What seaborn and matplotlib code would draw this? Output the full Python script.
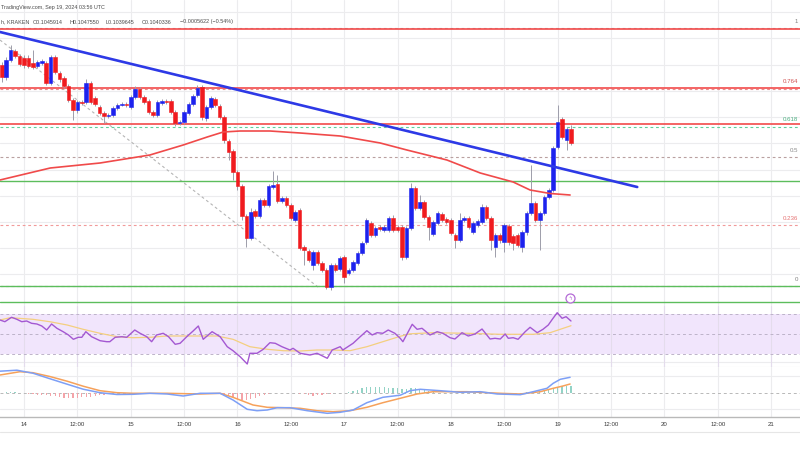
import numpy as np
import matplotlib
matplotlib.use("Agg")
import matplotlib.pyplot as plt
import matplotlib.transforms as mtransforms
from matplotlib.lines import Line2D
import seaborn as sns

sns.set_theme(style="white")
plt.rcParams["font.family"] = ["Liberation Sans", "DejaVu Sans"]

# ---------------- data (prices in 1e-5 units, hours from Sep 14 00:00 UTC) ----------------
first_hour = -5  # first hourly candle: Sep 13 19:00 UTC

open_e5 = [10715, 10667, 10735, 10771, 10751, 10743, 10743, 10723, 10711, 10723,
           10723, 10643, 10747, 10683, 10663, 10631, 10575, 10535, 10567, 10567,
           10643, 10583, 10547, 10523, 10511, 10515, 10543, 10555, 10559, 10547,
           10587, 10619, 10587, 10571, 10527, 10515, 10563, 10571, 10571, 10527,
           10483, 10487, 10523, 10559, 10595, 10627, 10503, 10547, 10579, 10551,
           10507, 10411, 10371, 10287, 10231, 10111, 10023, 10131, 10111, 10175,
           10155, 10227, 10239, 10171, 10183, 10155, 10095, 10135, 9987, 9971,
           9915, 9967, 9923, 9895, 9827, 9915, 9899, 9947, 9883, 9895,
           9923, 9963, 10007, 10083, 10035, 10067, 10055, 10055, 10103, 10067,
           10067, 9947, 10063, 10223, 10143, 10167, 10107, 10039, 10083, 10119,
           10099, 10095, 10035, 10015, 10095, 10103, 10047, 10075, 10087, 10147,
           10103, 9987, 10035, 10007, 10071, 10031, 10035, 9987, 10047, 10123,
           10163, 10095, 10123, 10187, 10215, 10387, 10499, 10415, 10459]
close_e5 = [10667, 10735, 10775, 10751, 10719, 10715, 10711, 10707, 10727, 10731,
            10643, 10747, 10687, 10659, 10631, 10575, 10535, 10567, 10563, 10643,
            10567, 10559, 10523, 10511, 10515, 10543, 10555, 10559, 10555, 10587,
            10619, 10587, 10567, 10527, 10515, 10567, 10571, 10567, 10527, 10483,
            10487, 10527, 10559, 10591, 10623, 10507, 10547, 10583, 10555, 10507,
            10415, 10367, 10287, 10231, 10111, 10023, 10127, 10111, 10175, 10155,
            10231, 10235, 10171, 10183, 10155, 10103, 10127, 9983, 9975, 9935,
            9967, 9923, 9895, 9827, 9915, 9895, 9943, 9867, 9895, 9927,
            9963, 10003, 10095, 10035, 10063, 10059, 10067, 10103, 10055, 10055,
            9947, 10063, 10223, 10143, 10167, 10107, 10067, 10087, 10123, 10095,
            10087, 10043, 10015, 10095, 10103, 10067, 10083, 10091, 10147, 10103,
            10015, 10035, 10015, 10075, 10007, 10003, 9995, 10047, 10123, 10163,
            10095, 10123, 10187, 10215, 10383, 10487, 10427, 10459, 10403]
high_e5 = [10727, 10747, 10795, 10779, 10759, 10755, 10755, 10775, 10735, 10739,
           10731, 10755, 10755, 10691, 10671, 10639, 10583, 10575, 10575, 10659,
           10651, 10591, 10555, 10531, 10523, 10551, 10563, 10567, 10567, 10595,
           10631, 10627, 10595, 10579, 10535, 10575, 10579, 10579, 10579, 10535,
           10495, 10535, 10567, 10599, 10635, 10635, 10555, 10591, 10587, 10559,
           10515, 10419, 10379, 10295, 10239, 10119, 10143, 10139, 10183, 10183,
           10239, 10291, 10275, 10191, 10191, 10163, 10135, 10143, 9995, 9979,
           9975, 9975, 9931, 9903, 9923, 9923, 9951, 9955, 9903, 9935,
           9971, 10011, 10103, 10091, 10071, 10075, 10075, 10111, 10115, 10075,
           10075, 10071, 10243, 10231, 10195, 10175, 10115, 10095, 10131, 10127,
           10107, 10103, 10043, 10123, 10111, 10111, 10091, 10099, 10159, 10155,
           10111, 10043, 10043, 10083, 10079, 10039, 10043, 10055, 10131, 10315,
           10171, 10131, 10195, 10223, 10391, 10555, 10507, 10467, 10475]
low_e5 = [10647, 10655, 10727, 10743, 10711, 10703, 10703, 10699, 10703, 10715,
          10635, 10635, 10679, 10647, 10623, 10567, 10495, 10523, 10555, 10559,
          10559, 10551, 10515, 10483, 10503, 10507, 10535, 10551, 10547, 10539,
          10579, 10579, 10559, 10519, 10507, 10507, 10555, 10559, 10519, 10471,
          10475, 10479, 10515, 10551, 10587, 10495, 10491, 10539, 10547, 10499,
          10403, 10335, 10255, 10215, 10095, 9987, 10015, 10103, 10103, 10147,
          10147, 10219, 10163, 10163, 10147, 10095, 10087, 9975, 9915, 9927,
          9895, 9915, 9887, 9819, 9815, 9887, 9891, 9843, 9875, 9887,
          9915, 9955, 9999, 10027, 10027, 10051, 10047, 10047, 10047, 10047,
          9935, 9939, 10055, 10135, 10135, 10099, 10015, 10031, 10075, 10087,
          10079, 10035, 9983, 10007, 10087, 10059, 10039, 10067, 10079, 10095,
          9975, 9947, 10003, 9967, 9995, 9975, 9987, 9967, 10035, 10115,
          10087, 9975, 10115, 10179, 10207, 10379, 10419, 10375, 10395]

# 100-period moving average (read points)
ma_hours = [-5.4, 5.9, 17.1, 28.3, 35.8, 41.2, 44.8, 48.6, 55.3, 62.1, 71.1, 80.1,
            86.1, 95.1, 102.6, 110.0, 113.8, 118.3, 122.8]
ma_e5 = [10255, 10303, 10323, 10355, 10395, 10427, 10447, 10451, 10451, 10443, 10431,
         10403, 10375, 10335, 10283, 10247, 10215, 10201, 10195]

trend_hours = [-5.4, 137.9]
trend_e5 = [10847, 10227]
diag_hours = [-5.4, 66.1]
diag_e5 = [10815, 9827]

fib_low_e5 = 9831
fib_high_e5 = 10863
fib_levels = [0, 0.236, 0.5, 0.618, 0.764, 1]
fib_labels = ["0", "0.236", "0.5", "0.618", "0.764", "1"]

red_levels_e5 = [10859, 10623, 10479]
green_levels_e5 = [10251, 9831, 9767]
grid_e5 = [10927, 10823, 10715, 10611, 10507, 10403, 10295, 10191, 10087, 9983, 9879]

rsi_hours = [-5.4, -4.3, -2.8, -1.6, -0.5, 0.6, 1.7, 2.9, 4.0, 5.1, 6.2, 7.4, 8.8, 10.0,
             11.1, 12.2, 13.0, 13.9, 15.2, 17.1, 18.6, 19.3, 20.5, 22.0, 23.1, 24.9, 26.1,
             27.6, 28.7, 29.8, 31.3, 32.5, 34.0, 35.1, 36.6, 38.1, 39.2, 40.3, 42.3, 44.1,
             45.7, 47.0, 48.6, 50.2, 50.8, 52.4, 53.8, 55.3, 56.5, 58.0, 59.8, 60.5, 62.1,
             64.3, 65.9, 68.2, 69.3, 71.1, 71.7, 74.0, 75.6, 77.1, 78.3, 79.4, 80.7, 81.9,
             83.4, 84.6, 85.2, 87.3, 88.4, 89.5, 91.3, 92.9, 94.2, 95.8, 96.9, 98.5, 99.9,
             101.4, 103.0, 104.8, 105.9, 107.1, 108.2, 108.9, 110.0, 111.1, 112.7, 113.8,
             115.4, 116.7, 117.9, 118.8, 119.9, 121.0, 121.9, 123.0]
rsi_vals = [64.3, 62.6, 67, 65, 62.6, 63.3, 61, 60.3, 58.3, 54.3, 60.3, 56, 52.6, 49.3,
            45, 47, 47, 52.6, 47.6, 43.6, 42.6, 42.6, 47, 47.6, 47, 54.3, 51,
            47.6, 42.6, 49.3, 51, 47.6, 40, 41, 47.6, 53.6, 58.3, 45, 52.6, 47.6,
            37.6, 33.6, 27.6, 20.3, 31, 31, 35, 41.6, 41, 37.6, 34.3, 36, 31,
            29.3, 31, 26, 34.3, 37.6, 34.3, 41, 47.6, 53.6, 49.3, 51.6, 51, 54.3,
            51, 46, 42.6, 60, 55, 56, 49.3, 52.6, 51, 46.6, 45.3, 51.6, 48.3,
            50.3, 55.3, 45.3, 46, 45.3, 50.3, 46, 46.6, 45, 52.6, 57,
            51.6, 55, 59.3, 65, 71.6, 66, 67.6, 63.3]
rsi_ma_hours = [-5.4, -3.1, 2.0, 5.8, 9.7, 13.3, 17.1, 20.9, 24.5, 28.3, 32.2, 35.8, 41.2,
                43.4, 47.0, 50.8, 54.7, 58.3, 62.1, 65.9, 69.5, 73.3, 77.1, 80.7, 84.6,
                86.8, 92.0, 99.6, 107.1, 114.5, 118.3, 123.0]
rsi_ma_vals = [64.3, 66.6, 65, 62.6, 59.3, 55, 51, 47.6, 46.6, 47, 48.3, 48.3, 48.3,
               48.3, 45, 37.6, 35, 33.6, 33.3, 34.3, 34.3, 33.6, 37.6, 42.6, 48,
               50.5, 51.6, 51, 50, 50, 51.6, 58.6]

# MACD (1e-5 units)
macd_hours = [-5.4, -1.6, 2.0, 5.8, 9.7, 13.3, 17.1, 20.9, 24.5, 28.3, 32.2, 35.8, 39.6,
              44.1, 47.0, 50.2, 52.4, 54.7, 56.9, 59.8, 63.7, 68.2, 71.1, 74.0, 77.1,
              80.7, 84.6, 86.8, 89.1, 93.6, 98.1, 102.6, 106.4, 111.6, 114.5, 117.6,
              119.0, 120.6, 122.8]
macd_vals = [21.5, 22.5, 19.5, 14, 8.5, 3.5, 0, -1.8, -1.6, -0.6, -1.3, -3.3, -0.6,
             -0.6, -7.3, -16.6, -18, -17.3, -15, -15, -18, -20.6, -19.6, -17.3, -10,
             -4.6, -2.5, 2, 3.4, 2, 0.4, 1, -1.3, -2, 1, 4.4,
             9.4, 13.4, 15.4]
signal_hours = [-5.4, -0.9, 2.0, 5.8, 9.7, 13.3, 17.1, 20.9, 24.5, 32.2, 39.6, 44.1, 47.0,
                51.5, 54.7, 58.3, 62.1, 65.9, 69.5, 73.3, 77.1, 80.7, 84.6, 88.4, 92.0,
                99.6, 107.1, 111.6, 116.1, 119.0, 121.2, 122.8]
signal_vals = [17.7, 21, 20, 16.2, 11.5, 6.5, 2, 0, -0.6, -0.6, -1.3, -0.6, -4.6,
               -12.3, -14.6, -15, -15.6, -18, -19, -18, -14.6, -10, -5.6, -1.3, 1,
               1, -0.6, -1.3, 1, 4.4, 6.7, 8.7]
hist_hours = ([-4, -3, -2] + list(range(1, 20)) + list(range(45, 56)) + list(range(62, 70))
              + list(range(73, 93)) + list(range(113, 124)))
hist_vals = ([1.0, 0.8, 0.5]
             + [-0.8, -1.2, -1.8, -2.3, -2.6, -3.2, -3.6, -4.2, -4.8, -5.4, -5.6, -5.2, -4.6,
                -4.4, -3.8, -3.2, -2.6, -2.0, -1.2]
             + [-1.5, -3.0, -4.5, -6.0, -7.0, -7.5, -6.5, -5.0, -3.5, -2.5, -1.5]
             + [-1.0, -1.5, -2.5, -3.0, -2.5, -2.0, -1.5, -1.0]
             + [1.0, 2.0, 3.0, 4.5, 5.5, 6.0, 6.0, 5.5, 5.5, 5.0, 5.0, 4.5, 3.5, 4.0, 4.5,
                4.5, 4.0, 3.0, 2.0, 1.5]
             + [0.5, 1.0, 1.5, 1.5, 2.0, 3.0, 4.5, 6.0, 7.0, 7.0, 6.5])

tick_hours = list(range(0, 169, 12))
tick_labels = ["14", "12:00", "15", "12:00", "16", "12:00", "17", "12:00",
               "18", "12:00", "19", "12:00", "20", "12:00", "21"]

event_hour = 122.8
event_e5 = 9783

header1 = "TradingView.com, Sep 19, 2024 03:56 UTC"
header2 = ["h, KRAKEN", "O0.1045914", "H0.1047550", "L0.1039645", "C0.1040336",
           "\u22120.0005622 (\u22120.54%)"]
header2_px = [1, 33, 70, 106, 142, 180]

# ---------------- styling ----------------
BLUE = "#1d22ee"
RED = "#f01b1f"
WICK = "#9d9daa"
GRID = "#ececee"
FS = 4.4
FS_HEAD = 3.9

W, H = 800, 450
fig = plt.figure(figsize=(8, 4.5), dpi=100)
fig.patch.set_facecolor("white")

def ax_at(top_px, bottom_px):
    return fig.add_axes([0, 1 - bottom_px / H, 1, (bottom_px - top_px) / H])

ax = ax_at(0, 306)
ax_rsi = ax_at(306, 367)
ax_macd = ax_at(367, 417)

xlim = (-5.398, 174.5)
for a in (ax, ax_rsi, ax_macd):
    a.set_xlim(*xlim)
    a.set_facecolor("white")
    for s in a.spines.values():
        s.set_visible(False)
    a.set_xticks([])
    a.set_yticks([])
    for th in tick_hours:
        a.axvline(th, color=GRID, lw=0.8, zorder=0)

# ---------- main pane ----------
e5 = 1e5
o = np.array(open_e5) / e5
c = np.array(close_e5) / e5
hi = np.maximum(np.array(high_e5) / e5, np.maximum(o, c))
lo = np.minimum(np.array(low_e5) / e5, np.minimum(o, c))
t = first_hour + np.arange(len(o))

ax.set_ylim(0.09751, 0.10975)
for g in grid_e5:
    ax.axhline(g / e5, color=GRID, lw=0.8, zorder=0)

span = fib_high_e5 - fib_low_e5
fib_line_colors = ["#9aa0a0", "#f19a9a", "#b9a0a0", "#5fcf9a", "#e98c8c", "#b0b0b0"]
fib_text_colors = ["#808080", "#e57373", "#8a8a8a", "#4caf80", "#d05050", "#808080"]
for lvl, lab, lc, tc in zip(fib_levels, fib_labels, fib_line_colors, fib_text_colors):
    p = (fib_low_e5 + lvl * span) / e5
    ax.axhline(p, color=lc, lw=0.8, ls=(0, (2.5, 2.5)), zorder=1)
    ax.annotate(lab, xy=(0.9975, p), xycoords=("axes fraction", "data"),
                xytext=(0, 5), textcoords="offset points", ha="right", va="center",
                fontsize=FS, color=tc)

for r in red_levels_e5:
    ax.axhline(r / e5, color="#f24a4a", lw=1.2, zorder=2)
for g in green_levels_e5:
    ax.axhline(g / e5, color="#5cbd5c", lw=1.0, zorder=2)

# diagonal fib guide
ax.plot(diag_hours, np.array(diag_e5) / e5, color="#b5b5b5", lw=0.8,
        ls=(0, (2.5, 2.5)), zorder=1)

# candles
up = c >= o
colors = np.where(up, BLUE, RED)
ax.vlines(t, lo, hi, color=WICK, lw=0.7, zorder=3)
ax.bar(t, c - o, bottom=o, width=0.8, color=colors, edgecolor=colors,
       linewidth=0.4, zorder=4)

# moving average and trend line
sns.lineplot(x=ma_hours, y=np.array(ma_e5) / e5, ax=ax, color="#f04a4a", lw=1.2,
             estimator=None, sort=False, zorder=5)
sns.lineplot(x=trend_hours, y=np.array(trend_e5) / e5, ax=ax, color="#2d39e6", lw=1.9,
             estimator=None, sort=False, zorder=6)

# event marker
ax.scatter([event_hour], [event_e5 / e5], s=42, facecolor="white", edgecolor="#b46bd6",
           linewidth=0.9, zorder=7)
ax.text(event_hour, event_e5 / e5, "\u03df", fontsize=4, color="#b46bd6",
        ha="center", va="center", zorder=8, family=["DejaVu Sans"])

ax.set_xlabel("")
ax.set_ylabel("")

# ---------- RSI pane ----------
ax_rsi.set_ylim(17.3, 78.3)
ax_rsi.axhspan(30, 70, color="#f1e5fc", zorder=0.5, lw=0)
for th in tick_hours:
    ax_rsi.axvline(th, color="#e4dcec", lw=0.8, zorder=0.6)
for lv in (70, 50, 30):
    ax_rsi.axhline(lv, color="#bdb3c9", lw=0.7, ls=(0, (3, 3)), zorder=1)
ax_rsi.axhline(22.3, color=GRID, lw=0.8, zorder=0.4)
sns.lineplot(x=rsi_ma_hours, y=rsi_ma_vals, ax=ax_rsi, color="#f4cf7f", lw=0.9,
             estimator=None, sort=False, zorder=2)
sns.lineplot(x=rsi_hours, y=rsi_vals, ax=ax_rsi, color="#a458d2", lw=1.0,
             estimator=None, sort=False, zorder=3)
ax_rsi.set_xlabel("")
ax_rsi.set_ylabel("")
ax_rsi.spines["bottom"].set_visible(True)
ax_rsi.spines["bottom"].set_color("#e2e2e2")
ax_rsi.spines["bottom"].set_linewidth(0.8)

# ---------- MACD pane ----------
ax_macd.set_ylim(-24.3, 25.7)
for g in (16.7, -16.3):
    ax_macd.axhline(g, color=GRID, lw=0.8, zorder=0)
ax_macd.axhline(0, color="#b8b8b8", lw=0.7, ls=(0, (3, 3)), zorder=1)
hv = np.array(hist_vals)
ax_macd.bar(hist_hours, hv, width=0.28,
            color=np.where(hv >= 0, "#93d3c6", "#f4a3a8"), lw=0, zorder=2)
sns.lineplot(x=signal_hours, y=signal_vals, ax=ax_macd, color="#f6a15a", lw=1.1,
             estimator=None, sort=False, zorder=3)
sns.lineplot(x=macd_hours, y=macd_vals, ax=ax_macd, color="#7d9ff6", lw=1.1,
             estimator=None, sort=False, zorder=4)
ax_macd.set_xlabel("")
ax_macd.set_ylabel("")
ax_macd.spines["bottom"].set_visible(True)
ax_macd.spines["bottom"].set_color("#b9b9b9")
ax_macd.spines["bottom"].set_linewidth(1.0)

# time axis labels
trans = mtransforms.blended_transform_factory(ax_macd.transData, fig.transFigure)
for th, lab in zip(tick_hours, tick_labels):
    ax_macd.text(th, 1 - 424 / H, lab, transform=trans, ha="center", va="center",
                 fontsize=FS, color="#3a3a3a", clip_on=False)
fig.add_artist(Line2D([0, 1], [1 - 432 / H, 1 - 432 / H], transform=fig.transFigure,
                      color="#e6e6e6", lw=0.8))

# header
fig.text(1 / W, 1 - 7 / H, header1, ha="left", va="center", fontsize=FS_HEAD,
         color="#4a4a4a")
for txt, px in zip(header2, header2_px):
    fig.text(px / W, 1 - 22 / H, txt, ha="left", va="center", fontsize=FS_HEAD,
             color="#4a4a4a")

fig.savefig("out.png", dpi=100, facecolor="white")
